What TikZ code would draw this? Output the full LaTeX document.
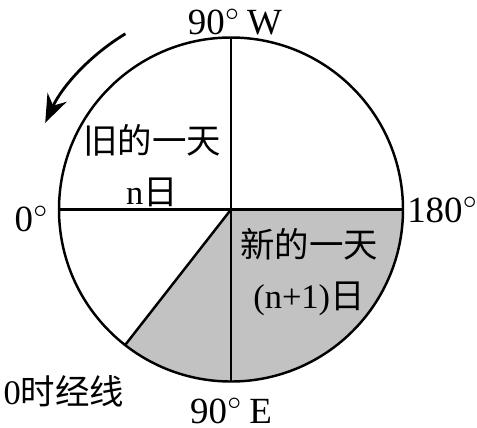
\documentclass[tikz,border=0pt]{standalone}
\usepackage{fontspec}
\setmainfont{Liberation Serif}
\newfontfamily\cjk{Noto Sans CJK SC}
\usepackage{tikz}
\usetikzlibrary{arrows.meta,calc,positioning}
\tikzset{
  lbl/.style={inner sep=0pt, font=\fontsize{10.5}{12}\selectfont},
  zh/.style={lbl, align=center, font=\fontsize{9.8}{14.5}\selectfont\cjk},
  rim/.style={line width=0.7pt},
  meridian/.style={line width=0.7pt},
  rotarrow/.style={line width=0.8pt, -{Stealth[length=8pt,width=6pt]}}
}
\begin{document}
\begin{tikzpicture}
  \useasboundingbox (-2.31,-2.175) rectangle (2.46,2.095);
  \coordinate (O) at (0,0);
  \def\R{1.72}
  \coordinate (W) at (90:\R);
  \coordinate (E) at (270:\R);
  \coordinate (Z) at (180:\R);
  \coordinate (D) at (0:\R);
  \coordinate (M) at (232:\R);
  % new day
  \fill[black!24] (O) -- (M) arc[start angle=232, end angle=360, radius=\R] -- cycle;
  \draw[rim] (O) circle[radius=\R];
  \draw[line width=0.95pt] (Z) -- (D);
  \draw[meridian] (W) -- (E);
  \draw[meridian] (O) -- (M);
  % rotation
  \draw[rotarrow] (121:2.05) arc[start angle=121, end angle=155, radius=2.05];
  % labels
  \node[lbl] (lw) at (0.04,1.875) {90$^{\circ}$\,W};
  \node[lbl] (le) at (0.0,-2.015) {90$^{\circ}$\,E};
  \node[lbl] (lz) at (-1.99,-0.09) {0$^{\circ}$};
  \node[lbl] (ld) at (2.12,0.0) {180$^{\circ}$};
  \node[zh] (old) at (-0.79,0.44) {旧的一天\\{\rmfamily n}日};
  \node[zh] (new) at (0.78,-0.63) {新的一天\\{\rmfamily (n+1)}日};
  \node[zh] (zero) at (-1.67,-1.815) {{\rmfamily 0}时经线};
\end{tikzpicture}
\end{document}
